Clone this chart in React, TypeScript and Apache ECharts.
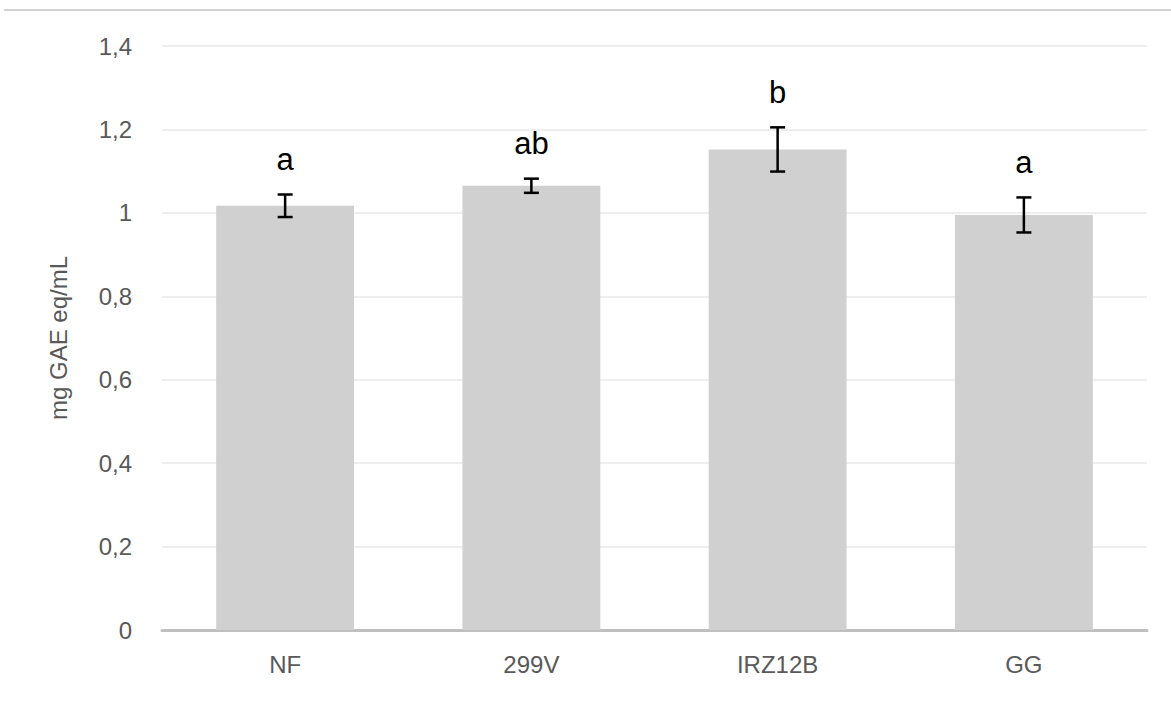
import React, { useEffect, useRef } from "react";
import * as echarts from "echarts";

const categories = ["NF", "299V", "IRZ12B", "GG"];
const means = [1.017, 1.065, 1.152, 0.995];
const errors = [0.027, 0.017, 0.053, 0.042];
const letters = ["a", "ab", "b", "a"];
const yTicks = [0, 0.2, 0.4, 0.6, 0.8, 1, 1.2, 1.4];

const FONT = "Liberation Sans, Arial, sans-serif";

export default function App() {
  const ref = useRef<HTMLDivElement>(null);
  useEffect(() => {
    if (!ref.current) return;
    const chart = echarts.init(ref.current, null, { renderer: "svg" });
    const errData = categories.map((c, i) => [i, means[i] - errors[i], means[i] + errors[i]]);
    chart.setOption({
      animation: false,
      backgroundColor: "#ffffff",
      textStyle: { fontFamily: FONT },
      grid: { left: 162, right: 24, top: 46, bottom: 71 },
      graphic: [
        {
          type: "line",
          shape: { x1: 4, y1: 10, x2: 1171, y2: 10 },
          style: { stroke: "#c4c4c4", lineWidth: 1.5 },
          silent: true,
        },
      ],
      xAxis: {
        type: "category",
        data: categories,
        axisTick: { show: false },
        axisLine: { show: true, lineStyle: { color: "#bfbfbf", width: 3 } },
        axisLabel: { color: "#595959", fontSize: 24, margin: 22 },
      },
      yAxis: {
        type: "value",
        min: 0,
        max: 1.4,
        interval: 0.2,
        name: "mg GAE eq/mL",
        nameLocation: "middle",
        nameGap: 92,
        nameRotate: 90,
        nameTextStyle: { color: "#595959", fontSize: 24 },
        axisLine: { show: false },
        axisTick: { show: false },
        splitLine: { lineStyle: { color: "#eeeeee", width: 2 } },
        axisLabel: {
          color: "#595959",
          fontSize: 24,
          margin: 30,
          formatter: (v: number) => {
            const t = yTicks.find((x) => Math.abs(x - v) < 1e-9);
            const val = t !== undefined ? t : v;
            return String(Number(val.toFixed(1))).replace(".", ",");
          },
        },
      },
      series: [
        {
          type: "bar",
          data: means,
          barWidth: "56%",
          itemStyle: { color: "#d0d0d0" },
          z: 2,
        },
        {
          type: "custom",
          data: errData,
          z: 5,
          renderItem: (params: any, api: any) => {
            const x = api.value(0);
            const lo = api.coord([x, api.value(1)]);
            const hi = api.coord([x, api.value(2)]);
            const cap = 7.5;
            const style = { stroke: "#000000", lineWidth: 2.5 };
            return {
              type: "group",
              children: [
                { type: "line", shape: { x1: lo[0], y1: lo[1], x2: hi[0], y2: hi[1] }, style },
                { type: "line", shape: { x1: hi[0] - cap, y1: hi[1], x2: hi[0] + cap, y2: hi[1] }, style },
                { type: "line", shape: { x1: lo[0] - cap, y1: lo[1], x2: lo[0] + cap, y2: lo[1] }, style },
                {
                  type: "text",
                  x: hi[0],
                  y: hi[1] - 35,
                  style: {
                    text: letters[params.dataIndex],
                    fill: "#000000",
                    fontSize: 31,
                    fontFamily: FONT,
                    align: "center",
                    verticalAlign: "middle",
                  },
                },
              ],
            };
          },
        },
      ],
    });
    return () => chart.dispose();
  }, []);
  return (
    <div
      ref={ref}
      style={{ position: "fixed", left: 0, top: 0, width: 1171, height: 701 }}
    />
  );
}
